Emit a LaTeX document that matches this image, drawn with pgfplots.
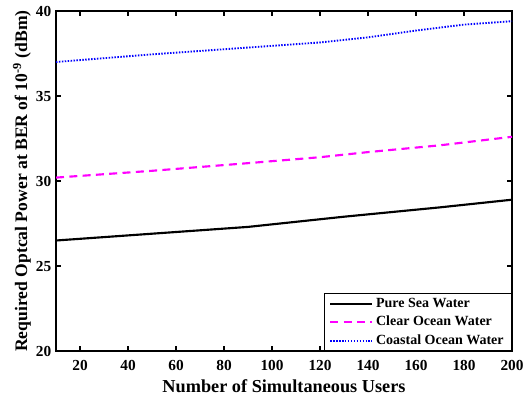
\documentclass[border=0pt]{standalone}
\usepackage{fontspec}
\setmainfont{Liberation Serif}
\usepackage{pgfplots}
\pgfplotsset{compat=1.18}
\definecolor{mag}{rgb}{1,0,1}
\definecolor{blu}{rgb}{0,0,1}
\begin{document}
\begin{tikzpicture}
\useasboundingbox (-42pt,-37.5pt) rectangle (353.25pt,263.25pt);
\begin{axis}[
  scale only axis, width=342pt, height=255pt,
  xmin=10, xmax=200, ymin=20, ymax=40,
  xtick={20,40,...,200}, ytick={20,25,...,40},
  tick align=inside, major tick length=3.5pt,
  axis line style={line width=1pt}, every tick/.style={line width=1pt, black},
  /pgf/number format/assume math mode=true,
  tick label style={font=\fontsize{11.5}{12}\selectfont\bfseries},
  xticklabel style={yshift=-3.5pt},
  xlabel={\textbf{Number of Simultaneous Users}},
  ylabel={\textbf{Required Optcal Power at BER of 10\textsuperscript{-9} (dBm)}},
  xlabel style={font=\fontsize{13.7}{15}\selectfont, yshift=0.5pt},
  ylabel style={font=\fontsize{13.2}{15}\selectfont, yshift=-3pt},
  legend style={at={(1,0)}, anchor=south east, font=\fontsize{10.5}{12}\selectfont\bfseries,
    draw=black, line width=0.6pt, inner xsep=4pt, inner ysep=0.5pt, row sep=0pt,
    nodes={text height=7.5pt, text depth=2pt, inner ysep=2.2pt, inner xsep=2pt}},
  legend cell align=left,
  legend image code/.code={\draw[#1] (0pt,0pt) -- (31.5pt,0pt);},
]
\addplot[black, line width=1.6pt] coordinates {(10,26.5) (50,26.9) (90,27.3) (130,27.9) (170,28.45) (200,28.9)};
\addlegendentry{Pure Sea Water}
\addplot[mag, line width=1.6pt, dash pattern=on 6pt off 4pt] coordinates {(10,30.2) (50,30.6) (90,31.05) (120,31.4) (140,31.7) (170,32.1) (200,32.6)};
\addlegendentry{Clear Ocean Water}
\addplot[blu, line width=1.4pt, dash pattern=on 1.1pt off 1.1pt] coordinates {(10,37.0) (50,37.45) (90,37.85) (120,38.15) (140,38.45) (160,38.85) (180,39.2) (200,39.4)};
\addlegendentry{Coastal Ocean Water}
\end{axis}
\end{tikzpicture}
\end{document}
